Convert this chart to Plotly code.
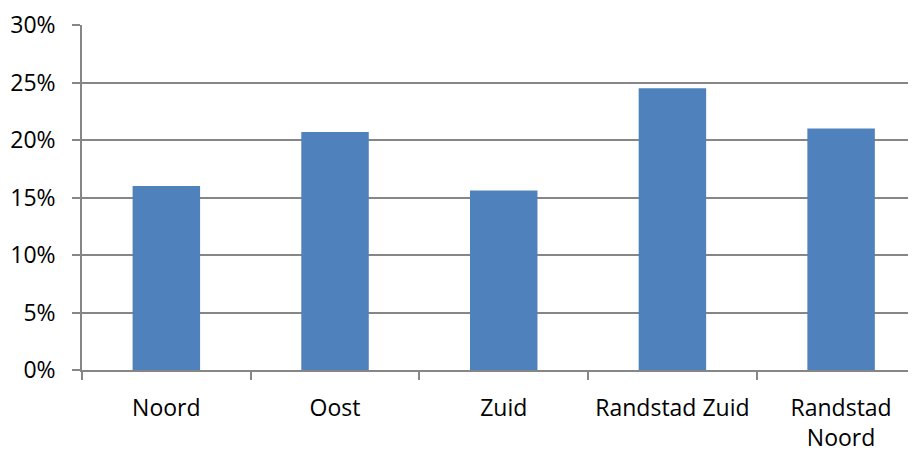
import plotly.graph_objects as go

categories = ["Noord", "Oost", "Zuid", "Randstad Zuid", "Randstad Noord"]
tick_labels = ["Noord", "Oost", "Zuid", "Randstad Zuid", "Randstad<br>Noord"]
values = [0.160, 0.207, 0.156, 0.245, 0.210]
y_ticks = [0, 0.05, 0.10, 0.15, 0.20, 0.25, 0.30]
y_tick_labels = ["0%", "5%", "10%", "15%", "20%", "25%", "30%"]

fig = go.Figure(go.Bar(
    x=categories, y=values,
    marker=dict(color="#4F81BD", line=dict(width=0)),
    width=0.4,
))

font = dict(family="Open Sans", size=23, color="#000000")
fig.update_layout(
    width=908, height=458,
    margin=dict(l=74, r=0, t=17, b=96, autoexpand=False),
    paper_bgcolor="white", plot_bgcolor="white",
    showlegend=False,
    font=font,
    bargap=0.6,
)
fig.update_xaxes(
    type="category", automargin=False,
    tickmode="array", tickvals=categories, ticktext=tick_labels,
    range=[-0.5, 4.444],
    showline=True, linecolor="#868686", linewidth=1.5,
    ticks="outside", tickson="boundaries", ticklen=8, tickcolor="#868686", tickwidth=1.5,
    showgrid=False, tickfont=font, ticklabelstandoff=17,
)
fig.update_yaxes(
    range=[0, 0.30], automargin=False,
    tickmode="array", tickvals=y_ticks, ticktext=y_tick_labels,
    showline=True, linecolor="#868686", linewidth=1.5,
    ticks="outside", ticklen=8, tickcolor="#868686", tickwidth=1.5,
    showgrid=True, gridcolor="#868686", gridwidth=1.5,
    zeroline=False, tickfont=font, ticklabelstandoff=12,
)

fig.write_html("out.html")
